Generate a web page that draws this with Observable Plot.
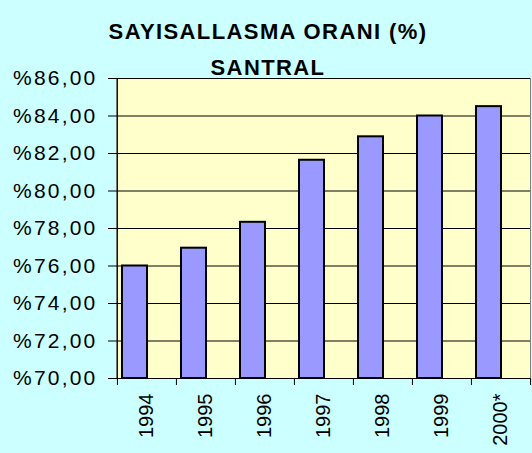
<!DOCTYPE html>
<html>
<head>
<meta charset="utf-8">
<script src="https://cdn.jsdelivr.net/npm/d3@7"></script>
<script src="https://cdn.jsdelivr.net/npm/@observablehq/plot@0.6"></script>
<style>
  html, body { margin: 0; padding: 0; background: #CCFFFF; }
  #wrap { position: relative; width: 532px; height: 453px; }
  #title { position: absolute; left: 0; top: 14px; width: 536px; text-align: center;
    font: bold 22px "Liberation Sans", Arial, sans-serif; line-height: 36px; letter-spacing: 1.4px; color: #000; }
  svg { display: block; }
  g[aria-label="y-axis tick label"] text { letter-spacing: 2.2px; }
</style>
</head>
<body>
<div id="wrap">
  <div id="title">SAYISALLASMA ORANI (%)<br>SANTRAL</div>
  <div id="chart"></div>
</div>
<script>
const years = ["1994", "1995", "1996", "1997", "1998", "1999", "2000*"];
const rates = [76.0, 76.95, 78.33, 81.64, 82.89, 84.0, 84.5];
const yTicks = [70, 72, 74, 76, 78, 80, 82, 84, 86];

const data = years.map((y, i) => ({year: y, rate: rates[i]}));
const W = 532, H = 453, mL = 116, mR = 2, mT = 78, mB = 75;
const bw = (W - mL - mR) / years.length;
const fmt = d => "%" + d.toFixed(2).replace(".", ",");

const chart = Plot.plot({
  width: W, height: H,
  marginLeft: mL, marginRight: mR, marginTop: mT, marginBottom: mB,
  style: {background: "transparent", fontFamily: "'Liberation Sans', Arial, sans-serif", color: "#000"},
  x: {domain: years, padding: 0},
  y: {domain: [70, 86]},
  marks: [
    Plot.frame({fill: "#FFFFCC", stroke: "#808080"}),
    Plot.ruleY(yTicks.slice(1), {stroke: "#000", strokeWidth: 1}),
    Plot.barY(data, {x: "year", y1: 70, y2: "rate", fill: "#9999FF", stroke: "#000", strokeWidth: 2, insetLeft: 5, insetRight: 29}),
    Plot.ruleY([70], {stroke: "#000"}),
    Plot.ruleX([years[0]], {dx: -bw / 2, stroke: "#000"}),
    Plot.axisY({ticks: yTicks, tickFormat: fmt, tickSize: 8, tickPadding: 11, fontSize: 21, label: null}),
    Plot.axisX({ticks: years, tickSize: 0, tickPadding: 15, tickRotate: -90, fontSize: 20, label: null}),
    Plot.axisX({ticks: years, text: null, tickSize: 7, dx: -bw / 2, label: null}),
    Plot.axisX({ticks: [years[years.length - 1]], text: null, tickSize: 7, dx: bw / 2, label: null})
  ]
});
document.getElementById("chart").appendChild(chart);
</script>
</body>
</html>
